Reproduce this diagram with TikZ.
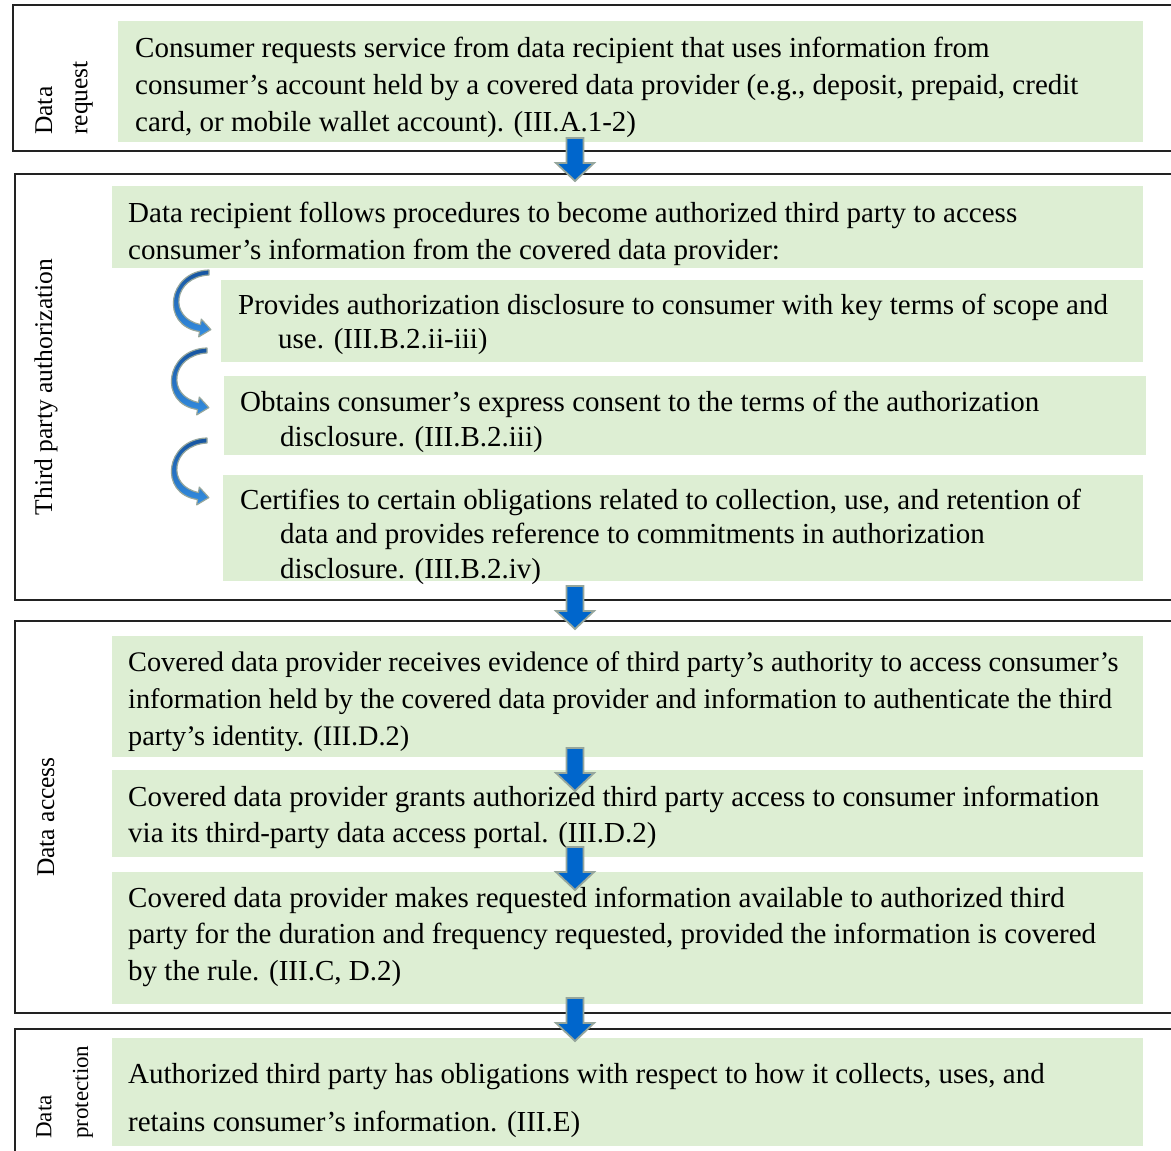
\documentclass[tikz,border=0pt]{standalone}
\usepackage{fontspec}
\setmainfont{Liberation Serif}
\definecolor{gfill}{RGB}{221,238,211}
\definecolor{framecol}{RGB}{34,34,34}
\definecolor{ablue}{RGB}{0,102,204}
\definecolor{aedge}{RGB}{150,166,156}
\definecolor{cdark}{RGB}{22,84,160}
\definecolor{clight}{RGB}{52,142,226}
\tikzset{
  boxframe/.style={draw=framecol, line width=1.8pt},
  gbox/.style={fill=gfill, draw=none, inner sep=0pt, anchor=north west},
  txt/.style={anchor=north west, inner sep=0pt, align=left},
  lbl/.style={rotate=90, inner sep=0pt, font=\fontsize{25.5}{30}\selectfont},
  downarrow/.pic={
    \path[fill=ablue, draw=aedge, line width=1.8pt, line join=miter]
      (-8.5,0) -- (8.5,0) -- (8.5,25) -- (19,25) -- (0,43) -- (-19,25) -- (-8.5,25) -- cycle;
  },
  curvearrow/.pic={
    \path[draw=aedge, line width=1.2pt, top color=cdark, bottom color=clight, line join=round]
      (-1,0) .. controls (-43,1) and (-50,56) .. (-10.5,61.5) -- (-11.3,66.9) -- (0.9,59.6)
      -- (-8.7,49.1) -- (-9.5,54.5) .. controls (-42,48) and (-37,7) .. (-1,5) -- cycle;
  }
}
\newcommand{\fr}{\rule{0pt}{22pt}}
\begin{document}
\begin{tikzpicture}[x=1pt,y=-1pt]
\useasboundingbox (0,0) rectangle (1171,1151);
\clip (0,0) rectangle (1171,1151);
\fill[white] (0,0) rectangle (1171,1151);

% outer frames
\draw[boxframe] (1190,5) -- (13,5) -- (13,151) -- (1190,151);
\draw[boxframe] (1190,174) -- (15,174) -- (15,600) -- (1190,600);
\draw[boxframe] (1190,621) -- (15,621) -- (15,1013) -- (1190,1013);
\draw[boxframe] (1190,1029) -- (15,1029) -- (15,1170);

% green boxes
\node[gbox, minimum width=1025pt, minimum height=121pt] (g1) at (118,21) {};
\node[gbox, minimum width=1031pt, minimum height=82pt] (g2) at (112,186) {};
\node[gbox, minimum width=922pt, minimum height=82pt] (s1) at (221,280) {};
\node[gbox, minimum width=922pt, minimum height=79pt] (s2) at (224,376) {};
\node[gbox, minimum width=920pt, minimum height=106pt] (s3) at (223,475) {};
\node[gbox, minimum width=1031pt, minimum height=121pt] (h1) at (112,636) {};
\node[gbox, minimum width=1031pt, minimum height=87pt] (h2) at (112,770) {};
\node[gbox, minimum width=1031pt, minimum height=132pt] (h3) at (112,872) {};
\node[gbox, minimum width=1031pt, minimum height=108pt] (k1) at (112,1038) {};

% texts
\node[txt, font=\fontsize{29}{37}\selectfont] (tg1) at (135,35)
  {\fr Consumer requests service from data recipient that uses information from\\
   consumer’s account held by a covered data provider (e.g., deposit, prepaid, credit\\
   card, or mobile wallet account). (III.A.1-2)};
\node[txt, font=\fontsize{29}{37}\selectfont] (tg2) at (128,200)
  {\fr Data recipient follows procedures to become authorized third party to access\\
   consumer’s information from the covered data provider:};
\node[txt, font=\fontsize{29}{34}\selectfont] (ts1) at (238,292)
  {\fr Provides authorization disclosure to consumer with key terms of scope and\\
   \hspace*{40pt}use. (III.B.2.ii-iii)};
\node[txt, font=\fontsize{29}{35}\selectfont] (ts2) at (240,389)
  {\fr Obtains consumer’s express consent to the terms of the authorization\\
   \hspace*{40pt}disclosure. (III.B.2.iii)};
\node[txt, font=\fontsize{29}{34.5}\selectfont] (ts3) at (240,487)
  {\fr Certifies to certain obligations related to collection, use, and retention of\\
   \hspace*{40pt}data and provides reference to commitments in authorization\\
   \hspace*{40pt}disclosure. (III.B.2.iv)};
\node[txt, font=\fontsize{28.3}{37}\selectfont] (th1) at (128,649)
  {\fr Covered data provider receives evidence of third party’s authority to access consumer’s\\
   information held by the covered data provider and information to authenticate the third\\
   party’s identity. (III.D.2)};
\node[txt, font=\fontsize{29}{36}\selectfont] (th2) at (128,784)
  {\fr Covered data provider grants authorized third party access to consumer information\\
   via its third-party data access portal. (III.D.2)};
\node[txt, font=\fontsize{29}{36.5}\selectfont] (th3) at (128,885)
  {\fr Covered data provider makes requested information available to authorized third\\
   party for the duration and frequency requested, provided the information is covered\\
   by the rule. (III.C, D.2)};
\node[txt, font=\fontsize{29}{48}\selectfont] (tk1) at (128,1061)
  {\fr Authorized third party has obligations with respect to how it collects, uses, and\\
   retains consumer’s information. (III.E)};

% side labels
\node[lbl, anchor=west] (l1a) at (44,135) {Data};
\node[lbl, anchor=west] (l1b) at (83,135) {request};
\node[lbl] (l2) at (46,387) {Third party authorization};
\node[lbl] (l3) at (46,817) {Data access};
\node[lbl, anchor=west, font=\fontsize{23}{27}\selectfont] (l4a) at (44,1139) {Data};
\node[lbl, anchor=west, font=\fontsize{23}{27}\selectfont] (l4b) at (83,1139) {protection};

% block arrows
\pic at (575,138) {downarrow};
\pic at (575,586) {downarrow};
\pic at (575,748) {downarrow};
\pic at (575,847) {downarrow};
\pic at (575,998) {downarrow};

% curved arrows
\pic at (210,270) {curvearrow};
\pic at (208,348) {curvearrow};
\pic at (208,438) {curvearrow};
\end{tikzpicture}
\end{document}
